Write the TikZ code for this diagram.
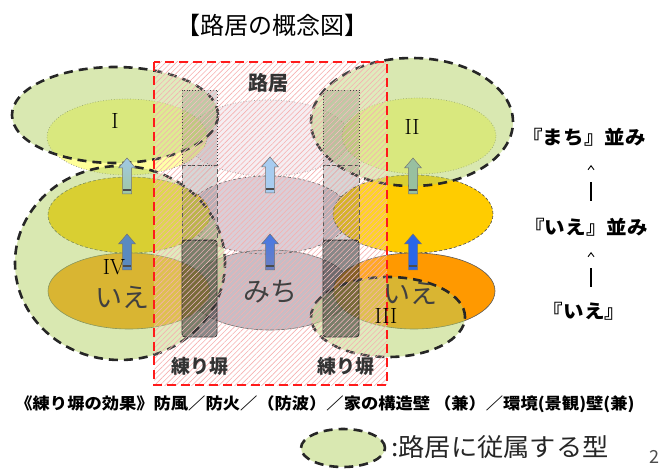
\documentclass[tikz,border=0pt]{standalone}
\usepackage{fontspec}
\newfontfamily\jp{Noto Sans CJK JP}
\usetikzlibrary{patterns.meta,arrows.meta}
\definecolor{biggreen}{RGB}{180,210,100}
\definecolor{leggreen}{RGB}{217,232,177}
\definecolor{paleyel}{RGB}{255,255,153}
\definecolor{gold}{RGB}{255,204,0}
\definecolor{orng}{RGB}{255,153,0}
\definecolor{ctop}{RGB}{244,236,240}
\definecolor{cmid}{RGB}{212,198,208}
\definecolor{cbot}{RGB}{190,178,188}
\definecolor{redline}{RGB}{255,26,26}
\definecolor{hatch}{RGB}{246,176,176}
\tikzset{
  bigfill/.style={fill=biggreen, fill opacity=0.5},
  bigline/.style={draw=black!85, line width=2.6pt, dash pattern=on 9pt off 6pt},
  toprow/.style={draw=gray, line width=0.7pt, dotted},
  midrow/.style={draw=black!70, line width=0.6pt, dash pattern=on 3pt off 2pt},
  botrow/.style={draw=black!65, line width=0.6pt},
  pillartop/.style={draw=black!75, line width=0.9pt, dotted, fill=black!80, fill opacity=0.18},
  pillarmid/.style={draw=black!65, line width=0.9pt, dash pattern=on 5pt off 3pt, fill=black!80, fill opacity=0.2},
  pillarbot/.style={draw=black!80, line width=0.9pt, fill=black!85, fill opacity=0.55, rounded corners=3pt},
  arrbox/.style={draw=black!55, line width=0.5pt},
  rt/.style={inner sep=0pt, font=\jp},
  pics/uparr/.style={code={
    \path[pic actions] (0,0) -- (8.5,10) -- (4.5,10) -- (4.5,36) -- (-4.5,36) -- (-4.5,10) -- (-8.5,10) -- cycle;
    \draw[line width=1.3pt, black!70] (-4.2,32) -- (4.2,32);
  }},
}
\begin{document}
\begin{tikzpicture}[x=1pt,y=-1pt]
\useasboundingbox (0,0) rectangle (661,470);
% row ellipses
\fill[ctop] (268,138) ellipse [x radius=82pt, y radius=38pt];
\fill[cmid] (268,215) ellipse [x radius=82pt, y radius=39pt];
\fill[cbot] (270,290) ellipse [x radius=82pt, y radius=40pt];
\draw[toprow] (268,138) ellipse [x radius=82pt, y radius=38pt];
\draw[midrow] (268,215) ellipse [x radius=82pt, y radius=39pt];
\draw[botrow] (270,290) ellipse [x radius=82pt, y radius=40pt];
\path[toprow, fill=paleyel] (127,137) ellipse [x radius=80pt, y radius=38pt];
\path[toprow, fill=paleyel] (419,136) ellipse [x radius=77pt, y radius=38pt];
\path[midrow, fill=gold] (129,215) ellipse [x radius=81pt, y radius=38pt];
\path[midrow, fill=gold] (413,214) ellipse [x radius=80pt, y radius=39pt];
\path[botrow, fill=orng] (129,291) ellipse [x radius=81pt, y radius=38pt];
\path[botrow, fill=orng] (414,291) ellipse [x radius=81pt, y radius=38pt];
% big green overlays
\fill[bigfill] (115,115) ellipse [x radius=103pt, y radius=48pt];
\fill[bigfill] (120,263) ellipse [x radius=105pt, y radius=97pt];
\fill[bigfill] (412,122) ellipse [x radius=101pt, y radius=64pt];
\fill[bigfill] (388,317) ellipse [x radius=77pt, y radius=40pt];
\draw[bigline] (115,115) ellipse [x radius=103pt, y radius=48pt];
\draw[bigline] (120,263) ellipse [x radius=105pt, y radius=97pt];
\draw[bigline] (412,122) ellipse [x radius=101pt, y radius=64pt];
\draw[bigline] (388,317) ellipse [x radius=77pt, y radius=40pt];
% hatched road area
\fill[white, fill opacity=0.15] (154,62) rectangle (387,385);
\fill[pattern={Lines[angle=45, distance=3.8pt, line width=0.6pt]}, pattern color=hatch] (154,62) rectangle (387,385);
% pillars
\path[pillartop] (182,90) rectangle (217,165);
\path[pillarmid] (182,165) rectangle (217,240);
\path[pillarbot] (182,240) rectangle (217,337);
\path[pillartop] (323,90) rectangle (359,165);
\path[pillarmid] (323,165) rectangle (359,240);
\path[pillarbot] (323,240) rectangle (359,337);
\fill[pattern={Lines[angle=45, distance=3.8pt, line width=0.5pt]}, pattern color=hatch!70] (182,90) rectangle (217,337);
\fill[pattern={Lines[angle=45, distance=3.8pt, line width=0.5pt]}, pattern color=hatch!70] (323,90) rectangle (359,337);
\draw[redline, line width=2.6pt, dash pattern=on 9pt off 5pt] (154,62) rectangle (387,385);
% block arrows
\pic[arrbox, top color={rgb,255:red,160;green,200;blue,230}, bottom color={rgb,255:red,160;green,200;blue,160}] at (127,158) {uparr};
\pic[arrbox, fill={rgb,255:red,90;green,138;blue,192}] at (127,234) {uparr};
\pic[arrbox, fill={rgb,255:red,168;green,204;blue,240}] at (270,157) {uparr};
\pic[arrbox, top color={rgb,255:red,70;green,120;blue,230}, bottom color={rgb,255:red,110;green,128;blue,192}] at (270,234) {uparr};
\pic[arrbox, fill={rgb,255:red,152;green,192;blue,160}] at (413,158) {uparr};
\pic[arrbox, fill={rgb,255:red,42;green,102;blue,232}] at (413,234) {uparr};
% labels
\node[rt, font=\jp\fontsize{24}{24}\selectfont] (title) at (272,25) {【路居の概念図】};
\node[rt, font=\jp\bfseries\fontsize{20}{20}\selectfont, text=black!80] (roji) at (268,83) {路居};
\node[rt, font=\jp\bfseries\fontsize{19}{19}\selectfont, text=black!80] (neri1) at (200,366) {練り塀};
\node[rt, font=\jp\bfseries\fontsize{19}{19}\selectfont, text=black!80] (neri2) at (346,366) {練り塀};
\node[inner sep=0pt, font=\fontsize{22}{22}\selectfont] (n1) at (115,121) {I};
\node[inner sep=0pt, font=\fontsize{22}{22}\selectfont] (n2) at (412,127) {II};
\node[inner sep=0pt, font=\fontsize{22}{22}\selectfont] (n4) at (114,267) {IV};
\node[inner sep=0pt, font=\fontsize{22}{22}\selectfont] (n3) at (386,316) {III};
\node[rt, font=\jp\fontsize{27}{27}\selectfont, text=black!75] (ieL) at (122,297) {いえ};
\node[rt, font=\jp\fontsize{27}{27}\selectfont, text=black!75] (michi) at (270,292) {みち};
\node[rt, font=\jp\fontsize{27}{27}\selectfont, text=black!75] (ieR) at (410,293) {いえ};
\node[rt, font=\jp\bfseries\fontsize{19}{19}\selectfont] (machi) at (584,137) {\scalebox{1.08}[1]{『まち』並み}};
\node[rt, font=\jp\bfseries\fontsize{19}{19}\selectfont] (ienami) at (586,227) {\scalebox{1.08}[1]{『いえ』並み}};
\node[rt, font=\jp\bfseries\fontsize{19}{19}\selectfont] (ie) at (584,311) {\scalebox{1.08}[1]{『いえ』}};
\coordinate (a1s) at (591,201);
\coordinate (a1e) at (591,165);
\coordinate (a2s) at (591,287);
\coordinate (a2e) at (591,252);
\draw[line width=1.8pt, dash pattern=on 19pt off 40pt, -{Straight Barb[length=4pt, width=6pt, line width=0.9pt]}] (a1s) -- (a1e);
\draw[line width=1.8pt, dash pattern=on 19pt off 40pt, -{Straight Barb[length=4pt, width=6pt, line width=0.9pt]}] (a2s) -- (a2e);
\node[rt, font=\jp\bfseries\fontsize{16}{16}\selectfont] (effect) at (325,404) {\scalebox{1.08}[1]{《練り塀の効果》防風／防火／（防波）／家の構造壁 （兼）／環境(景観)壁(兼)}};
\path[bigline, fill=leggreen] (343,448) ellipse [x radius=42pt, y radius=19pt];
\node[rt, anchor=west, font=\jp\fontsize{25}{25}\selectfont, text=black!85] (legend) at (391,447) {\scalebox{1.05}[1]{:路居に従属する型}};
\node[rt, anchor=east, font=\jp\fontsize{18}{18}\selectfont, text=black!70] (pg) at (660,457) {2};
\end{tikzpicture}
\end{document}
